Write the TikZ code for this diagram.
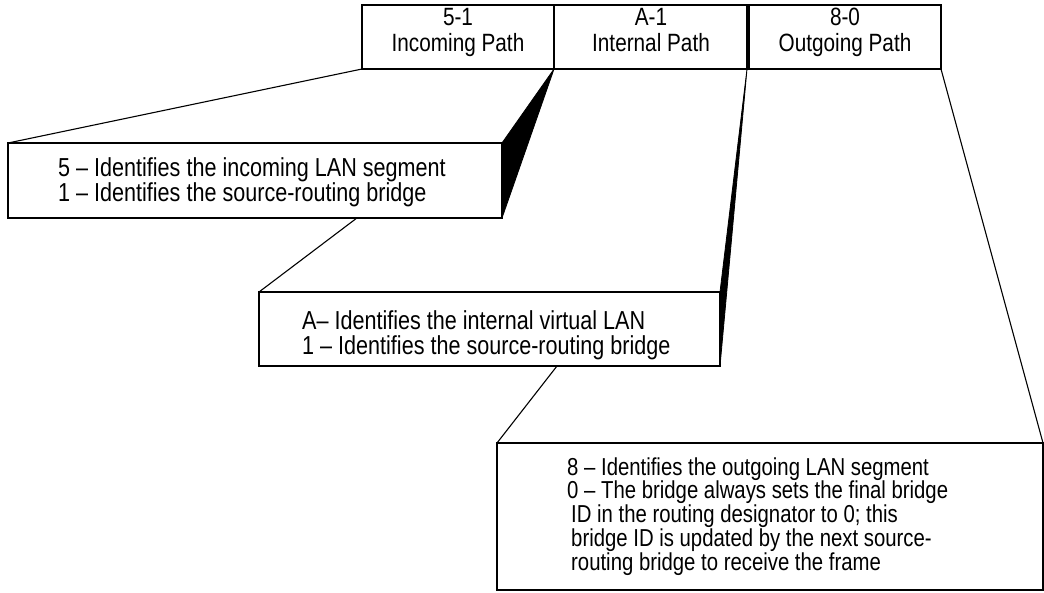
\documentclass[tikz,border=0pt]{standalone}
\usepackage{fontspec}
\setmainfont[FakeStretch=0.83]{Liberation Sans}
\begin{document}
\begin{tikzpicture}[x=1pt,y=-1pt,
  boxshape/.style={draw=black, fill=white, line width=1.3pt, inner sep=0pt, outer sep=0pt, anchor=north west},
  toptext/.style={font=\fontsize{25}{26}\selectfont, align=center, inner sep=0pt, anchor=north},
  bodytext/.style={font=\fontsize{26}{25}\selectfont, align=left, inner sep=0pt, anchor=north west},
  conn/.style={line width=1.1pt},
  wedge/.style={fill=black, draw=black, line width=0.8pt, line join=round}]
\useasboundingbox (0,0) rectangle (1044,592);
% top boxes
\node[boxshape, minimum width=192pt, minimum height=64pt] (p1) at (362,5) {};
\node[boxshape, minimum width=193pt, minimum height=64pt] (p2) at (554,5) {};
\node[boxshape, minimum width=192pt, minimum height=64pt] (p3) at (749,5) {};
\node[toptext] (t1) at (458,8) {5-1\\Incoming Path};
\node[toptext] (t2) at (651,8) {A-1\\Internal Path};
\node[toptext] (t3) at (845,8) {8-0\\Outgoing Path};
% detail boxes
\node[boxshape, minimum width=494pt, minimum height=75pt] (A) at (8,143) {};
\node[boxshape, minimum width=461pt, minimum height=74pt] (B) at (259,292) {};
\node[boxshape, minimum width=546pt, minimum height=147pt] (C) at (497,443) {};
\node[bodytext] (ta) at (58,157.7) {5 -- Identifies the incoming LAN segment\\1 -- Identifies the source-routing bridge};
\node[bodytext] (tb) at (302,310.7) {A-- Identifies the internal virtual LAN\\1 -- Identifies the source-routing bridge};
\node[bodytext, font=\fontsize{24.5}{21.5}\selectfont] (tc) at (567,457.2) {8 -- Identifies the outgoing LAN segment\\0 -- The bridge always sets the final bridge\\\hspace*{4pt}ID in the routing designator to 0; this\\\hspace*{4pt}bridge ID is updated by the next source-\\\hspace*{4pt}routing bridge to receive the frame};
% connectors
\draw[conn] (p1.south west) -- (A.north west);
\fill[wedge] (p1.south east) -- (A.north east) -- (A.south east) -- cycle;
\coordinate (a2) at (intersection of p2.south west--B.north west and A.south west--A.south east);
\draw[conn] (a2) -- (B.north west);
\fill[wedge] (p2.south east) -- (B.north east) -- (B.south east) -- cycle;
\coordinate (b3) at ([xshift=298pt]B.south west);
\draw[conn] (b3) -- (C.north west);
\draw[conn] (p3.south east) -- (C.north east);
\end{tikzpicture}
\end{document}
